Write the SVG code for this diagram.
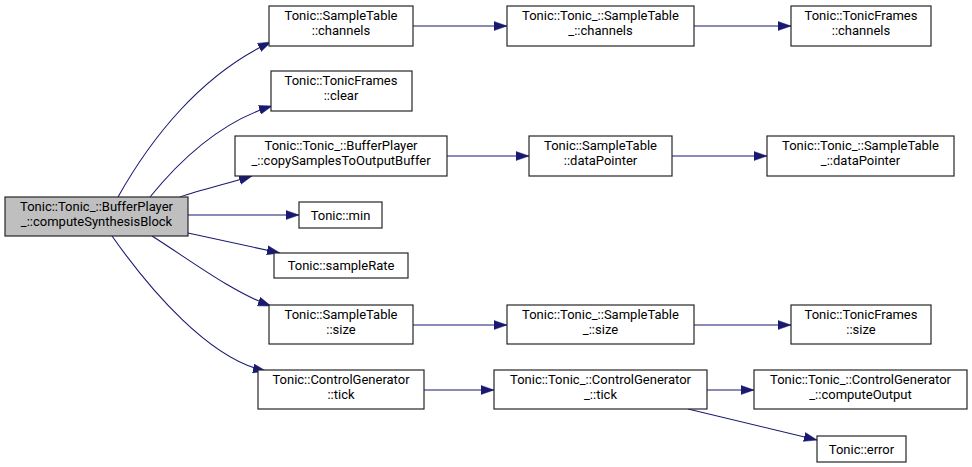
<svg xmlns="http://www.w3.org/2000/svg" width="972" height="467" viewBox="0 0 972 467">
<defs>
<marker id="ah" viewBox="0 0 13 10" refX="13" refY="5" markerWidth="13" markerHeight="10" markerUnits="userSpaceOnUse" orient="auto">
<path d="M0,0.5 L13,5 L0,9.5 z" fill="#191970" stroke="#191970" stroke-width="0.5"/>
</marker>
<style>
.n rect{fill:#ffffff;stroke:#262626;stroke-width:1.2}
.root rect{fill:#bfbfbf;stroke:#262626;stroke-width:1.2}
text{font-family:Roboto,"Liberation Sans",sans-serif;font-size:13px;fill:#000;text-anchor:middle}
.e path{fill:none;stroke:#191970;stroke-width:1.1;marker-end:url(#ah)}
</style>
</defs>
<rect width="972" height="467" fill="#ffffff"/>
<g class="e" id="edges">
<path d="M118,197 C150,140 200,75 271,42"/>
<path d="M150,197 C180,160 220,122 272,106"/>
<path d="M180,197 C200,190 230,183 252,176"/>
<path d="M188,215 L299,215"/>
<path d="M188,233 L280,253"/>
<path d="M152,236 C190,260 232,292 271,306"/>
<path d="M112,236 C150,290 210,360 266,371"/>
<path d="M413,26 L507,26"/>
<path d="M694,26 L791,26"/>
<path d="M447,156 L529,156"/>
<path d="M672,156 L767,156"/>
<path d="M413,325 L507,325"/>
<path d="M694,325 L791,325"/>
<path d="M424,390 L494,390"/>
<path d="M707,390 L754,390"/>
<path d="M688,409 L817,440"/>
</g>
<g class="root" id="n0"><rect x="5" y="197" width="183" height="39"/><text x="96.5" y="211">Tonic::Tonic_::BufferPlayer</text><text x="96.5" y="226">_::computeSynthesisBlock</text></g>
<g class="n" id="n1"><rect x="269" y="6" width="144" height="40"/><text x="341" y="20">Tonic::SampleTable</text><text x="341" y="35">::channels</text></g>
<g class="n" id="n2"><rect x="271" y="71" width="141" height="40"/><text x="341" y="85">Tonic::TonicFrames</text><text x="341" y="100">::clear</text></g>
<g class="n" id="n3"><rect x="235" y="136" width="212" height="40"/><text x="341" y="150">Tonic::Tonic_::BufferPlayer</text><text x="341" y="165">_::copySamplesToOutputBuffer</text></g>
<g class="n" id="n4"><rect x="299" y="202" width="83" height="26"/><text x="340.5" y="219.5">Tonic::min</text></g>
<g class="n" id="n5"><rect x="274" y="253" width="134" height="25"/><text x="341" y="270">Tonic::sampleRate</text></g>
<g class="n" id="n6"><rect x="269" y="305" width="144" height="39"/><text x="341" y="319">Tonic::SampleTable</text><text x="341" y="334">::size</text></g>
<g class="n" id="n7"><rect x="258" y="370" width="166" height="39"/><text x="341" y="384">Tonic::ControlGenerator</text><text x="341" y="399">::tick</text></g>
<g class="n" id="n8"><rect x="507" y="6" width="187" height="40"/><text x="600.5" y="20">Tonic::Tonic_::SampleTable</text><text x="600.5" y="35">_::channels</text></g>
<g class="n" id="n9"><rect x="529" y="136" width="143" height="40"/><text x="600.5" y="150">Tonic::SampleTable</text><text x="600.5" y="165">::dataPointer</text></g>
<g class="n" id="n10"><rect x="507" y="305" width="187" height="39"/><text x="600.5" y="319">Tonic::Tonic_::SampleTable</text><text x="600.5" y="334">_::size</text></g>
<g class="n" id="n11"><rect x="494" y="370" width="213" height="39"/><text x="600.5" y="384">Tonic::Tonic_::ControlGenerator</text><text x="600.5" y="399">_::tick</text></g>
<g class="n" id="n12"><rect x="791" y="6" width="140" height="40"/><text x="861" y="20">Tonic::TonicFrames</text><text x="861" y="35">::channels</text></g>
<g class="n" id="n13"><rect x="767" y="136" width="187" height="40"/><text x="860.5" y="150">Tonic::Tonic_::SampleTable</text><text x="860.5" y="165">_::dataPointer</text></g>
<g class="n" id="n14"><rect x="791" y="305" width="140" height="39"/><text x="861" y="319">Tonic::TonicFrames</text><text x="861" y="334">::size</text></g>
<g class="n" id="n15"><rect x="754" y="370" width="213" height="39"/><text x="860.5" y="384">Tonic::Tonic_::ControlGenerator</text><text x="860.5" y="399">_::computeOutput</text></g>
<g class="n" id="n16"><rect x="817" y="436" width="89" height="26"/><text x="861.5" y="453.5">Tonic::error</text></g>
</svg>
